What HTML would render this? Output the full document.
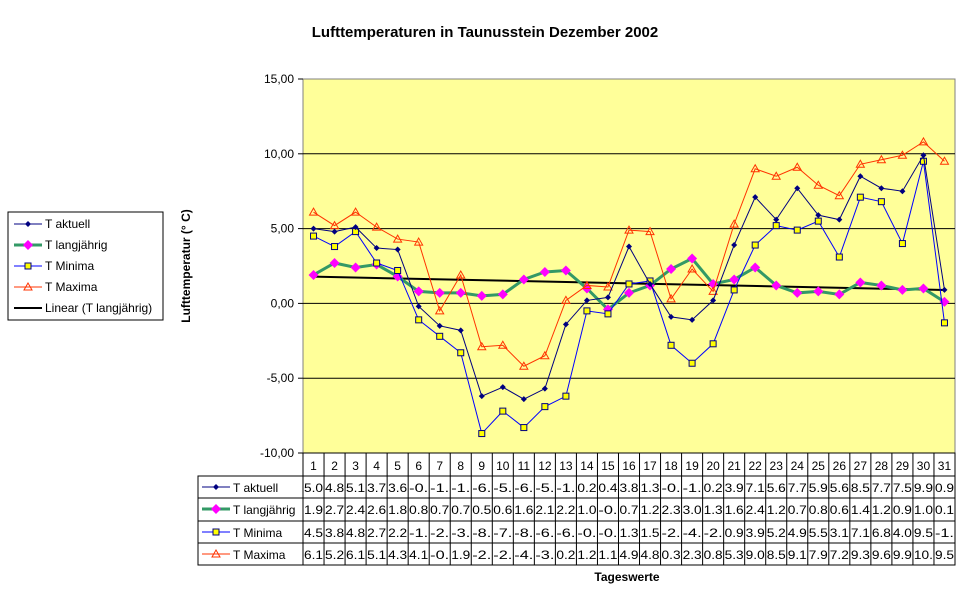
<!DOCTYPE html>
<html><head><meta charset="utf-8"><style>
body{margin:0;background:#fff;font-family:"Liberation Sans",sans-serif;}
</style></head><body>
<svg id="c" width="970" height="604" xmlns="http://www.w3.org/2000/svg" font-family="Liberation Sans, sans-serif">
<text x="485" y="37" text-anchor="middle" font-size="15" font-weight="bold">Lufttemperaturen in Taunusstein Dezember 2002</text>
<text transform="translate(190,266) rotate(-90)" text-anchor="middle" font-size="12" font-weight="bold">Lufttemperatur (° C)</text>
<text x="627" y="581" text-anchor="middle" font-size="12" font-weight="bold">Tageswerte</text>
<rect x="303" y="79" width="652" height="374" fill="#ffff99" stroke="#808080"/>
<g id="grid"></g><g id="series"></g><g id="table"></g>
<g>
<rect x="8" y="212" width="155" height="108" fill="#fff" stroke="#000"/>
</g>
<g id="legend"></g>
</svg>
<script>
const days=[];for(let i=1;i<=31;i++)days.push(i);
const aktuell=[5.0,4.8,5.1,3.7,3.6,-0.2,-1.5,-1.8,-6.2,-5.6,-6.4,-5.7,-1.4,0.2,0.4,3.8,1.3,-0.9,-1.1,0.2,3.9,7.1,5.6,7.7,5.9,5.6,8.5,7.7,7.5,9.9,0.9];
const langj=[1.9,2.7,2.4,2.6,1.8,0.8,0.7,0.7,0.5,0.6,1.6,2.1,2.2,1.0,-0.4,0.7,1.2,2.3,3.0,1.3,1.6,2.4,1.2,0.7,0.8,0.6,1.4,1.2,0.9,1.0,0.1];
const minima=[4.5,3.8,4.8,2.7,2.2,-1.1,-2.2,-3.3,-8.7,-7.2,-8.3,-6.9,-6.2,-0.5,-0.7,1.3,1.5,-2.8,-4.0,-2.7,0.9,3.9,5.2,4.9,5.5,3.1,7.1,6.8,4.0,9.5,-1.3];
const maxima=[6.1,5.2,6.1,5.1,4.3,4.1,-0.5,1.9,-2.9,-2.8,-4.2,-3.5,0.2,1.2,1.1,4.9,4.8,0.3,2.3,0.8,5.3,9.0,8.5,9.1,7.9,7.2,9.3,9.6,9.9,10.8,9.5];
const yTicks=[-10,-5,0,5,10,15];
const NS="http://www.w3.org/2000/svg";
const X0=303,X1=955,Y0=79,Y1=453,colW=(X1-X0)/31;
const x=i=>X0+colW*(i+0.5);
const y=v=>Y1-(v+10)/25*(Y1-Y0);
function mk(p,t,a){const e=document.createElementNS(NS,t);for(const k in a)e.setAttribute(k,a[k]);p.appendChild(e);return e;}
const grid=document.getElementById('grid');
yTicks.forEach(t=>{
 if(t>-10&&t<15){const l=mk(grid,'line',{x1:X0,x2:X1,y1:y(t),y2:y(t),stroke:'#000','stroke-width':1});
 
 }
 const tk=mk(grid,'line',{x1:X0-5,x2:X0,y1:y(t),y2:y(t),stroke:'#000'});
 
 
 const tx=mk(grid,'text',{x:X0-9,y:y(t)+4,'text-anchor':'end','font-size':12});
 tx.textContent=t.toFixed(2).replace('.',',');
 
 
});
const sg=document.getElementById('series');
// trend
const n=langj.length;let sx=0,sy=0,sxy=0,sxx=0;
langj.forEach((v,i)=>{sx+=i;sy+=v;sxy+=i*v;sxx+=i*i;});
const b=(n*sxy-sx*sy)/(n*sxx-sx*sx),a=(sy-b*sx)/n;
const tr=mk(sg,'line',{x1:x(0),y1:y(a),x2:x(n-1),y2:y(a+b*(n-1)),stroke:'#000','stroke-width':2});


function series(data,color,w,name,marker){
 const g=mk(sg,'g',{});
 
 
 const l=mk(g,'polyline',{points:data.map((v,i)=>x(i)+','+y(v)).join(' '),fill:'none',stroke:color,'stroke-width':w});
 
 
 data.forEach((v,i)=>{const m=marker(g,x(i),y(v));
  
  });
}
const diamond=(c,s)=>(g,cx,cy)=>mk(g,'polygon',{points:`${cx},${cy-s} ${cx+s},${cy} ${cx},${cy+s} ${cx-s},${cy}`,fill:c});
const sq=(g,cx,cy)=>mk(g,'rect',{x:cx-3,y:cy-3,width:6,height:6,fill:'#ffff00',stroke:'#000080'});
const tri=(g,cx,cy)=>mk(g,'polygon',{points:`${cx},${cy-4} ${cx+4},${cy+3} ${cx-4},${cy+3}`,fill:'none',stroke:'#ff3300'});
series(langj,'#339966',3,'t-langjaehrig',diamond('#ff00ff',5));
series(maxima,'#ff3300',1,'t-maxima',tri);
series(minima,'#0000ff',1,'t-minima',sq);
series(aktuell,'#000080',1,'t-aktuell',diamond('#000080',3));
// table
const tb=document.getElementById('table');
const rows=[['T aktuell',aktuell],['T langjährig',langj],['T Minima',minima],['T Maxima',maxima]];
const rY=[453,476,498,521,543,565];
mk(tb,'rect',{x:X0,y:453,width:X1-X0,height:112,fill:'none',stroke:'#000'});
mk(tb,'rect',{x:198,y:476,width:X1-198,height:89,fill:'none',stroke:'#000'});
for(let r=2;r<5;r++)mk(tb,'line',{x1:198,x2:X1,y1:rY[r],y2:rY[r],stroke:'#000'});
for(let i=1;i<31;i++)mk(tb,'line',{x1:X0+colW*i,x2:X0+colW*i,y1:453,y2:565,stroke:'#000'});
function fmt(v){let s=v.toFixed(1);if(s.length>3)s=s.slice(0,3);if(s.endsWith('.')&&v>=10)s=s;return s;}
days.forEach((d,i)=>{const t=mk(tb,'text',{x:x(i),y:470,'text-anchor':'middle','font-size':12});t.textContent=d;
 
 });
rows.forEach((r,ri)=>{
 const cy=rY[ri+1]+16;
 r[1].forEach((v,i)=>{const t=mk(tb,'text',{x:X0+colW*i+1,y:cy,'font-size':12,textLength:colW-2,lengthAdjust:'spacingAndGlyphs'});
  t.textContent=fmt(v);
  
  });
 const t=mk(tb,'text',{x:233,y:cy,'font-size':12});t.textContent=r[0];
 
 
});
// table legend keys
function key(g,cx,cy,i){
 if(i===0){mk(g,'line',{x1:cx-14,x2:cx+14,y1:cy,y2:cy,stroke:'#000080'});diamond('#000080',3)(g,cx,cy);}
 if(i===1){mk(g,'line',{x1:cx-14,x2:cx+14,y1:cy,y2:cy,stroke:'#339966','stroke-width':3});diamond('#ff00ff',5)(g,cx,cy);}
 if(i===2){mk(g,'line',{x1:cx-14,x2:cx+14,y1:cy,y2:cy,stroke:'#0000ff'});sq(g,cx,cy);}
 if(i===3){mk(g,'line',{x1:cx-14,x2:cx+14,y1:cy,y2:cy,stroke:'#ff3300'});tri(g,cx,cy);}
 if(i===4){mk(g,'line',{x1:cx-14,x2:cx+14,y1:cy,y2:cy,stroke:'#000','stroke-width':2});}
}
rows.forEach((r,ri)=>key(tb,216,rY[ri+1]+11,ri));
const lg=document.getElementById('legend');
['T aktuell','T langjährig','T Minima','T Maxima','Linear (T langjährig)'].forEach((s,i)=>{
 const cy=224+i*21;key(lg,28,cy,i);
 const t=mk(lg,'text',{x:45,y:cy+4,'font-size':12});t.textContent=s;
 
 
});
</script>
</body></html>
